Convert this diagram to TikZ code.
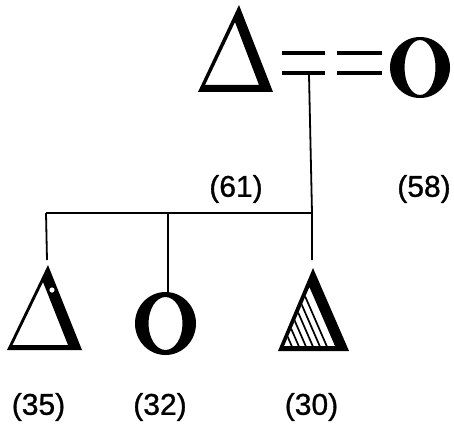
\documentclass[tikz,border=0pt]{standalone}
\usepackage{fontspec}
\setmainfont{Liberation Sans}
\newfontfamily\labfont{Liberation Sans}[FakeBold=1]
\tikzset{
  conn/.style={line width=1.8pt},
  eqbar/.style={line width=4pt},
  hatchline/.style={line width=1.7pt},
  lab/.style={font=\labfont\fontsize{30}{30}\selectfont, inner sep=0pt}
}
\begin{document}
\begin{tikzpicture}[x=1pt,y=-1pt]
\useasboundingbox (0,0) rectangle (454,433);
% parents
\fill[even odd rule] (239,5) -- (198,92) -- (273,92) -- cycle
  (235,22) -- (205,85) -- (259,85) -- cycle;
\fill[even odd rule] (420,67.5) ellipse [x radius=30pt, y radius=30.5pt]
  (420,67.5) ellipse [x radius=15.5pt, y radius=27.5pt];
\draw[eqbar] (282,53) -- (325,53);
\draw[eqbar] (337,53) -- (382,53);
\draw[eqbar] (282,73) -- (325,73);
\draw[eqbar] (337,73) -- (382,73);
% child 1
\fill[even odd rule] (48,265) -- (7,350) -- (82,350) -- cycle
  (43,282) -- (12.5,345) -- (68,345) -- cycle;
\fill[white] (52,290) circle[radius=2.6pt];
% child 2
\fill[even odd rule] (165.5,323.5) ellipse [x radius=30.5pt, y radius=31.5pt]
  (165.5,323.5) ellipse [x radius=17pt, y radius=26.5pt];
% child 3
\fill[even odd rule] (313,268) -- (278,351) -- (349,351) -- cycle
  (309.4,287) -- (284,346) -- (335,346) -- cycle;
\begin{scope}
  \clip (309.4,287) -- (284,346) -- (335,346) -- cycle;
  \foreach \k in {1,...,6} {
    \draw[hatchline] ({335-7*\k},349) -- ({335-7*\k-40},257);
  }
\end{scope}
% connector points
\coordinate (mar) at (309,75);
\coordinate (sib) at (312,213);
\coordinate (sl) at (46,213);
\coordinate (sm) at (168,213);
\coordinate (c1) at (47,260);
\coordinate (c2) at (168,292);
\coordinate (c3) at (312,260);
\draw[conn] (mar) -- (sib) -- (c3);
\draw[conn] (sl) -- (sib);
\draw[conn] (sl) -- (c1);
\draw[conn] (sm) -- (c2);
% labels
\node[lab] (l61) at (236,189) {(61)};
\node[lab] (l58) at (424,189) {(58)};
\node[lab] (l35) at (38.5,407) {(35)};
\node[lab] (l32) at (160,407) {(32)};
\node[lab] (l30) at (311.5,407) {(30)};
\end{tikzpicture}
\end{document}
